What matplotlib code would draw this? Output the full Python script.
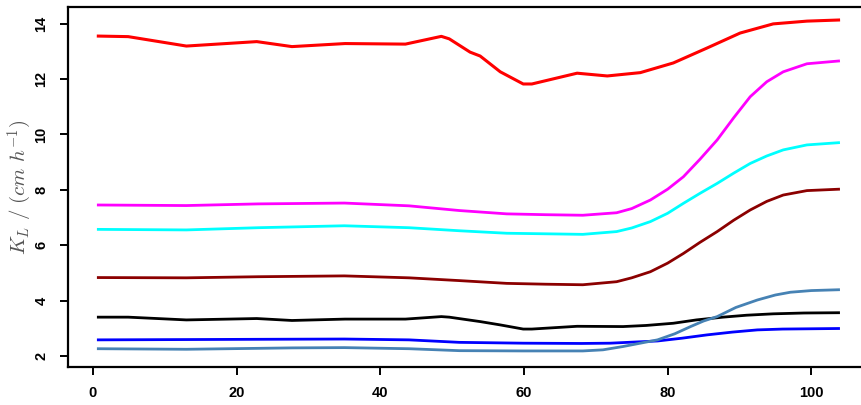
import matplotlib
matplotlib.use("Agg")
import matplotlib.pyplot as plt

# K_L curves
red_x = [0.74, 4.9, 13.0, 22.8, 27.7, 35.1, 43.5, 48.5, 49.6, 52.5, 53.9, 56.7, 59.9, 61.1,
         67.4, 71.6, 76.2, 80.8, 85.5, 90.1, 94.7, 99.4, 103.8]
red_y = [13.55, 13.53, 13.19, 13.35, 13.17, 13.28, 13.26, 13.54, 13.45, 12.97, 12.83, 12.26,
         11.82, 11.82, 12.21, 12.11, 12.23, 12.58, 13.12, 13.66, 13.99, 14.09, 14.13]

smooth_x = [0.74, 13, 23, 35, 44, 51, 57.6, 63, 68.2, 72.9, 75, 77.6, 80, 82.2, 84.5,
            86.9, 89.2, 91.5, 93.8, 96.1, 99.4, 103.8]
magenta_y = [7.45, 7.43, 7.49, 7.52, 7.42, 7.25, 7.13, 7.10, 7.08, 7.17, 7.32, 7.63, 8.02,
             8.47, 9.10, 9.80, 10.60, 11.36, 11.90, 12.26, 12.55, 12.65]
cyan_y = [6.57, 6.55, 6.63, 6.70, 6.63, 6.52, 6.43, 6.41, 6.39, 6.49, 6.62, 6.85, 7.15,
          7.51, 7.87, 8.23, 8.60, 8.95, 9.22, 9.44, 9.62, 9.70]
darkred_y = [4.83, 4.82, 4.86, 4.89, 4.82, 4.72, 4.62, 4.59, 4.57, 4.68, 4.82, 5.04, 5.35,
             5.70, 6.10, 6.49, 6.90, 7.27, 7.58, 7.81, 7.97, 8.02]

black_x = [0.74, 4.9, 13.0, 22.8, 27.7, 35.1, 43.5, 48.5, 49.6, 53.9, 56.7, 59.9, 61.1,
           67.4, 73.8, 77.0, 80.8, 84.0, 87.7, 91.0, 94.7, 99.0, 103.8]
black_y = [3.40, 3.40, 3.30, 3.35, 3.28, 3.33, 3.33, 3.42, 3.40, 3.24, 3.12, 2.97, 2.97,
           3.07, 3.06, 3.10, 3.18, 3.30, 3.40, 3.47, 3.52, 3.55, 3.56]

blue_x = [0.74, 23, 35, 44, 51, 59.9, 68, 72, 78.6, 82, 85.5, 89, 92.5, 96, 103.8]
blue_y = [2.58, 2.60, 2.61, 2.58, 2.49, 2.46, 2.45, 2.46, 2.54, 2.64, 2.76, 2.86, 2.94, 2.97, 2.99]

steel_x = [0.74, 13, 27.7, 35, 44, 51, 59.9, 68.2, 71, 73.8, 76, 78.6, 81, 83.2, 85,
           86.9, 89.5, 92.5, 95, 97.1, 100, 103.8]
steel_y = [2.26, 2.24, 2.29, 2.30, 2.26, 2.19, 2.18, 2.18, 2.22, 2.34, 2.45, 2.58, 2.80,
           3.06, 3.26, 3.42, 3.75, 4.02, 4.20, 4.30, 4.36, 4.39]

x_ticks = [0, 20, 40, 60, 80, 100]
y_ticks = [2, 4, 6, 8, 10, 12, 14]

plt.rcParams['mathtext.fontset'] = 'cm'

fig = plt.figure(figsize=(8.61, 4.05), dpi=100)
ax = fig.add_axes([68 / 861, 1 - 367 / 405, 800 / 861, 360 / 405])

lw = 2.0
ax.plot(red_x, red_y, color='#FF0000', lw=2.2)
ax.plot(smooth_x, magenta_y, color='#FF00FF', lw=lw)
ax.plot(smooth_x, cyan_y, color='#00FFFF', lw=lw)
ax.plot(smooth_x, darkred_y, color='#8B0000', lw=lw)
ax.plot(black_x, black_y, color='black', lw=lw)
ax.plot(blue_x, blue_y, color='#0000FF', lw=lw)
ax.plot(steel_x, steel_y, color='#4682B4', lw=lw)

ax.set_xlim(-3.48, 107.9)
ax.set_ylim(1.60, 14.6)
ax.set_xticks(x_ticks)
ax.set_yticks(y_ticks)

for s in ax.spines.values():
    s.set_linewidth(1.6)
ax.tick_params(direction='out', length=6, width=1.4, labelsize=10.5, pad=8)
for lab in ax.get_xticklabels() + ax.get_yticklabels():
    lab.set_fontfamily('Liberation Sans')
    lab.set_fontweight('bold')
for lab in ax.get_yticklabels():
    lab.set_rotation(90)
    lab.set_va('center')

ax.set_ylabel(r'$K_L\ /\ (cm\ h^{-1})$', fontsize=15, color='#555555')
ax.yaxis.set_label_coords(-0.043, 0.5)

fig.savefig('out.png', dpi=100)
